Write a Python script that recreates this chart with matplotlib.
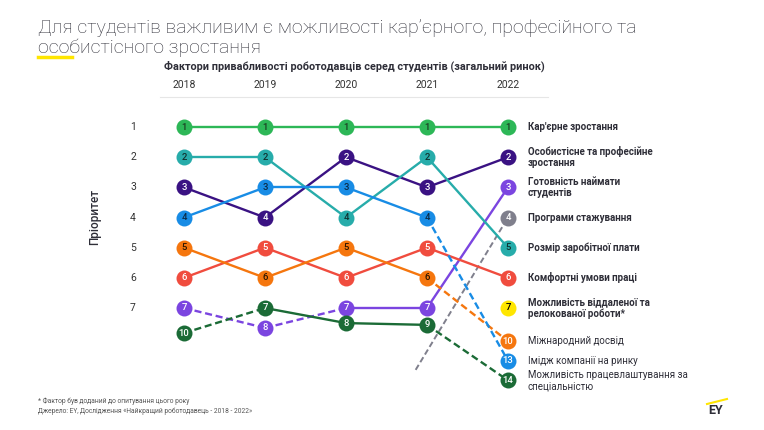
import matplotlib
matplotlib.use('Agg')
import matplotlib.pyplot as plt
from matplotlib.lines import Line2D

plt.rcParams['font.family'] = ['Roboto', 'DejaVu Sans']

years = [2018, 2019, 2020, 2021, 2022]
rank_ticks = [1, 2, 3, 4, 5, 6, 7]

# rank shown in the circle and the row it is drawn on (ranks below 7 are squeezed)
career_rank = [1, 1, 1, 1, 1]
career_pos = [1, 1, 1, 1, 1]
personal_rank = [3, 4, 2, 3, 2]
personal_pos = [3, 4, 2, 3, 2]
hiring_rank = [7, 8, 7, 7, 3]
hiring_pos = [7, 7.66, 7, 7, 3]
salary_rank = [2, 2, 4, 2, 5]
salary_pos = [2, 2, 4, 2, 5]
comfort_rank = [6, 5, 6, 5, 6]
comfort_pos = [6, 5, 6, 5, 6]
intl_rank = [5, 6, 5, 6, 10]
intl_pos = [5, 6, 5, 6, 8.1]
image_rank = [4, 3, 3, 4, 13]
image_pos = [4, 3, 3, 4, 8.75]
employ_rank = [10, 7, 8, 9, 14]
employ_pos = [7.83, 7, 7.5, 7.56, 9.4]
# new factors in 2022
internship_x = [2020.86, 2022]
internship_pos = [9.05, 4]
internship_rank = 4
remote_rank = 7
remote_pos = 7

series = [
    # rank, pos, colour, text colour, segment styles
    (career_rank, career_pos, '#2DB757', '#1b3d22', ['-', '-', '-', '-']),
    (personal_rank, personal_pos, '#3A1283', 'white', ['-', '-', '-', '-']),
    (hiring_rank, hiring_pos, '#7B45E0', 'white', ['--', '--', '-', '-']),
    (salary_rank, salary_pos, '#27ACAA', '#10302f', ['-', '-', '-', '-']),
    (comfort_rank, comfort_pos, '#F04C3E', 'white', ['-', '-', '-', '-']),
    (intl_rank, intl_pos, '#F5760E', '#2a1500', ['-', '-', '-', '--']),
    (image_rank, image_pos, '#188CE5', '#0b2a45', ['-', '-', '-', '--']),
    (employ_rank, employ_pos, '#1B6B36', 'white', ['--', '-', '-', '--']),
]

right_labels = [
    (1, 'Кар\'єрне зростання', 'semibold'),
    (2, 'Особистісне та професійне\nзростання', 'semibold'),
    (3, 'Готовність наймати\nстудентів', 'semibold'),
    (4, 'Програми стажування', 'semibold'),
    (5, 'Розмір заробітної плати', 'semibold'),
    (6, 'Комфортні умови праці', 'semibold'),
    (7, 'Можливість віддаленої та\nрелокованої роботи*', 'semibold'),
    (8.1, 'Міжнародний досвід', 'normal'),
    (8.75, 'Імідж компанії на ринку', 'normal'),
    (9.4, 'Можливість працевлаштування за\nспеціальністю', 'normal'),
]

fig = plt.figure(figsize=(7.64, 4.30), dpi=100)
W, H = 764, 430
# axes placed so 2018..2022 map to x 184..508 px and rank 1..7 to y 127..308 px
L, R, T, B = 140, 560, 110, 400
ax = fig.add_axes([L / W, 1 - B / H, (R - L) / W, (B - T) / H])
px_year = (508 - 184) / 4
px_rank = (308 - 127) / 6
ax.set_xlim(2018 - (184 - L) / px_year, 2022 + (R - 508) / px_year)
ax.set_ylim(1 + (B - 127) / px_rank, 1 - (127 - T) / px_rank)
ax.axis('off')

dash = (0, (3, 1.6))
ms = 11.5

for rank, pos, col, tcol, styles in series:
    for i in range(len(years) - 1):
        ls = dash if styles[i] == '--' else '-'
        ax.plot(years[i:i + 2], pos[i:i + 2], color=col, lw=1.7, linestyle=ls,
                zorder=2, solid_capstyle='round')
    ax.plot(years, pos, 'o', color=col, ms=ms, mec='none', zorder=3)
    for x, y, r in zip(years, pos, rank):
        c = tcol
        if y > 7.9:
            c = 'white'
        ax.text(x, y, str(r), ha='center', va='center', fontsize=6.8,
                color=c, zorder=4, fontweight='medium')

ax.plot(internship_x, internship_pos, color='#7F7F8C', lw=1.4, linestyle=dash, zorder=1)
ax.plot([internship_x[-1]], [internship_pos[-1]], 'o', color='#7F7F8C', ms=ms, mec='none', zorder=3)
ax.text(internship_x[-1], internship_pos[-1], str(internship_rank), ha='center', va='center',
        fontsize=6.8, color='white', zorder=4, fontweight='medium')
ax.plot([2022], [remote_pos], 'o', color='#FFE600', ms=ms, mec='none', zorder=3)
ax.text(2022, remote_pos, str(remote_rank), ha='center', va='center', fontsize=6.8,
        color='black', zorder=4, fontweight='medium')

for r in rank_ticks:
    ax.text(2018 - 51 / px_year, r, str(r), ha='center', va='center', fontsize=7.5, color='#333333')

for y, lab, wt in right_labels:
    ax.text(2022 + 20 / px_year, y, lab, ha='left', va='center', fontsize=7,
            color='#2E2E38', fontweight=wt, linespacing=1.2)

fig.text(95 / W, 1 - 217 / H, 'Пріоритет', rotation=90, ha='center', va='center',
         fontsize=8.5, color='#2E2E38', fontweight='medium')

# header
fig.text(38 / W, 1 - 28 / H, 'Для студентів важливим є можливості кар’єрного, професійного та',
         ha='left', va='center', fontsize=14, color='#2E2E38', fontweight='light')
fig.text(38 / W, 1 - 48 / H, 'особистісного зростання',
         ha='left', va='center', fontsize=14, color='#2E2E38', fontweight='light')
fig.add_artist(Line2D([38 / W, 72 / W], [1 - 57 / H, 1 - 57 / H], color='#FFE600', lw=2.5))

fig.text(354 / W, 1 - 66 / H, 'Фактори привабливості роботодавців серед студентів (загальний ринок)',
         ha='center', va='center', fontsize=7.8, color='#2E2E38', fontweight='semibold')
for yr in years:
    xp = 184 + (yr - 2018) * px_year
    fig.text(xp / W, 1 - 85 / H, str(yr), ha='center', va='center', fontsize=7.5, color='#333333')
fig.add_artist(Line2D([160 / W, 548 / W], [1 - 97 / H, 1 - 97 / H], color='#E6E6E6', lw=0.8))

fig.text(38 / W, 1 - 401 / H, '* Фактор був доданий до опитування цього року',
         ha='left', va='center', fontsize=4.8, color='#555555')
fig.text(38 / W, 1 - 411 / H, 'Джерело: EY, Дослідження «Найкращий роботодавець - 2018 - 2022»',
         ha='left', va='center', fontsize=4.8, color='#555555')

# EY logo
fig.text(716 / W, 1 - 411 / H, 'EY', ha='center', va='center', fontsize=9,
         fontweight='bold', color='#2E2E38')
fig.add_artist(Line2D([707 / W, 727 / W], [1 - 404 / H, 1 - 399 / H], color='#FFE600', lw=1.5))

fig.savefig('out.png', dpi=100, facecolor='white')
